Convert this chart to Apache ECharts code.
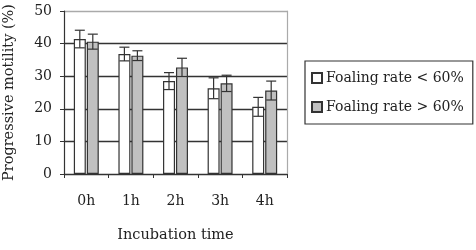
<!DOCTYPE html>
<html>
<head>
<meta charset="utf-8">
<script src="https://cdn.jsdelivr.net/npm/echarts@6/dist/echarts.min.js"></script>
<style>
  html, body { margin: 0; padding: 0; background: #fff; }
  #main { width: 476px; height: 250px; }
</style>
</head>
<body>
<div id="main"></div>
<script>
const categories = ['0h', '1h', '2h', '3h', '4h'];
const lowRate = [41.4, 36.8, 28.5, 26.3, 20.6];
const lowErr = [2.7, 2.1, 2.6, 3.2, 2.9];
const highRate = [40.6, 36.3, 32.7, 27.8, 25.6];
const highErr = [2.3, 1.5, 2.8, 2.5, 2.9];
const yTicks = [0, 10, 20, 30, 40, 50];

const font = 'DejaVu Serif, serif';
const barW = 12;

// error bar: vertical line with a cap at both ends
function errorSeries(name, means, errs, offset) {
  return {
    name: name + ' err',
    type: 'custom',
    z: 5,
    data: means.map((m, i) => [i, m - errs[i], m + errs[i]]),
    renderItem(params, api) {
      const lo = api.coord([api.value(0), api.value(1)]);
      const hi = api.coord([api.value(0), api.value(2)]);
      const x = lo[0] + offset;
      const style = { stroke: '#333', lineWidth: 1.2 };
      return {
        type: 'group',
        children: [
          { type: 'line', shape: { x1: x, y1: lo[1], x2: x, y2: hi[1] }, style },
          { type: 'line', shape: { x1: x - 5, y1: lo[1], x2: x + 5, y2: lo[1] }, style },
          { type: 'line', shape: { x1: x - 5, y1: hi[1], x2: x + 5, y2: hi[1] }, style },
        ],
      };
    },
  };
}

const chart = echarts.init(document.getElementById('main'));
chart.setOption({
  animation: false,
  textStyle: { fontFamily: font, color: '#222' },
  grid: { left: 64, right: 189, top: 11, bottom: 76 },
  legend: {
    data: ['Foaling rate < 60%', 'Foaling rate > 60%'],
    orient: 'vertical',
    left: 305,
    top: 61,
    padding: [10, 9, 10, 6],
    itemGap: 15,
    itemWidth: 10,
    itemHeight: 10,
    icon: 'rect',
    borderColor: '#333',
    borderWidth: 1.2,
    textStyle: { fontFamily: font, fontSize: 14, color: '#222', padding: [0, 0, 0, -1] },
  },
  xAxis: {
    type: 'category',
    data: categories,
    name: 'Incubation time',
    nameLocation: 'middle',
    nameGap: 54,
    nameTextStyle: { fontFamily: font, fontSize: 14.5, color: '#222' },
    axisLine: { lineStyle: { color: '#333', width: 1.2 } },
    axisTick: { show: true, length: 4, lineStyle: { color: '#333' } },
    axisLabel: { margin: 20, fontFamily: font, fontSize: 14, color: '#222' },
  },
  yAxis: [
    {
      type: 'value',
      min: yTicks[0],
      max: yTicks[yTicks.length - 1],
      interval: 10,
      name: 'Progressive motility (%)',
      nameLocation: 'middle',
      nameGap: 47,
      nameTextStyle: { fontFamily: font, fontSize: 14.5, color: '#222' },
      axisLine: { show: true, lineStyle: { color: '#333', width: 1.2 } },
      axisTick: { show: true, length: 4, lineStyle: { color: '#333' } },
      axisLabel: { margin: 12, fontFamily: font, fontSize: 14, color: '#222' },
      splitLine: {
        show: true,
        lineStyle: { color: ['#333', '#333', '#333', '#333', '#333', '#aaa'], width: 1.3 },
      },
    },
    {
      type: 'value',
      position: 'right',
      min: 0,
      max: 50,
      axisLine: { show: true, lineStyle: { color: '#aaa', width: 1.2 } },
      axisTick: { show: false },
      axisLabel: { show: false },
      splitLine: { show: false },
    },
  ],
  series: [
    {
      name: 'Foaling rate < 60%',
      type: 'bar',
      data: lowRate,
      barWidth: barW,
      barGap: '8%',
      itemStyle: { color: '#fff', borderColor: '#333', borderWidth: 1.2 },
    },
    {
      name: 'Foaling rate > 60%',
      type: 'bar',
      data: highRate,
      barWidth: barW,
      itemStyle: { color: '#c0c0c0', borderColor: '#333', borderWidth: 1.2 },
    },
    errorSeries('low', lowRate, lowErr, -6.5),
    errorSeries('high', highRate, highErr, 6.5),
  ],
});
</script>
</body>
</html>
